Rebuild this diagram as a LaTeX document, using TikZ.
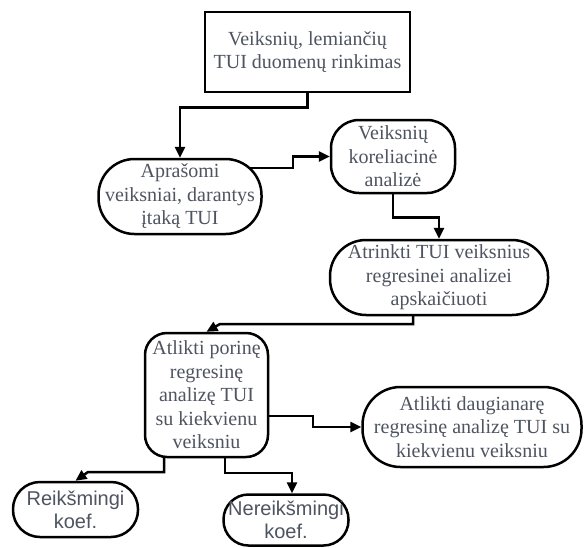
\documentclass[tikz,border=0pt]{standalone}
\usepackage{fontspec}
\setmainfont{Liberation Serif}
\newfontfamily\sansf{Liberation Sans}
\usetikzlibrary{arrows.meta,backgrounds,calc}
\definecolor{tc}{RGB}{78,84,96}
\begin{document}
\begin{tikzpicture}[x=1pt,y=-1pt,
  box/.style={draw=black,line width=2.5pt,fill=white,align=center,text=tc,
    font=\fontsize{20}{23.5}\selectfont,inner sep=0pt},
  sbox/.style={box,font=\sansf\fontsize{20}{23}\selectfont},
  arr/.style={line width=2.5pt,-{Triangle[length=11pt,width=10pt]}}]
\useasboundingbox (0,0) rectangle (584,547);
\node[box,minimum width=205pt,minimum height=80pt] (n1) at (307.5,52) {Veiksnių, lemiančių\\TUI duomenų rinkimas};
\node[box,minimum width=163pt,minimum height=75pt,rounded corners=36pt] (n2) at (180,196.5) {Aprašomi\\veiksniai, darantys\\įtaką TUI};
\node[box,minimum width=124pt,minimum height=73pt,rounded corners=28pt] (n3) at (393,156.5) {Veiksnių\\koreliacinė\\analizė};
\node[box,minimum width=218pt,minimum height=75pt,rounded corners=36pt] (n4) at (439,277.5) {Atrinkti TUI veiksnius\\regresinei analizei\\apskaičiuoti};
\node[box,minimum width=123pt,minimum height=124pt,rounded corners=22pt] (n5) at (206.5,395) {Atlikti porinę\\regresinę\\analizę TUI\\su kiekvienu\\veiksniu};
\node[box,minimum width=219pt,minimum height=80pt,rounded corners=38pt] (n6) at (472,427) {Atlikti daugianarę\\regresinę analizę TUI su\\kiekvienu veiksniu};
\node[sbox,minimum width=125pt,minimum height=55pt,rounded corners=27pt] (n7) at (75.5,509.5) {Reikšmingi\\koef.};
\node[sbox,minimum width=125pt,minimum height=51pt,rounded corners=25pt] (n8) at (286,520) {Nereikšmingi\\koef.};
\coordinate (k2) at (293,168);
\coordinate (k4) at (413,0);
\coordinate (k4b) at (220,324);
\coordinate (k5) at (313,416);
\coordinate (k6) at (164,0);
\coordinate (k6b) at (88,472);
\coordinate (k7) at (225,0);
\coordinate (k7b) at (292,473);
\begin{scope}[on background layer]
\draw[arr] (n1.south) -- ++(0,14) -| (n2.north);
\draw[arr] (n2.center |- k2) -- (k2) |- (n3.west);
\draw[arr] (n3.south) -- ++(0,23) -| (n4.north);
\draw[arr] (n4.center -| k4) |- (k4b) -- (n5.north);
\draw[arr] (n5.center |- k5) -- (k5) |- (n6.west);
\draw[arr] (n5.center -| k6) |- (k6b) -- (n7.north);
\draw[arr] (n5.center -| k7) |- (k7b) -- (n8.north -| k7b);
\end{scope}
\end{tikzpicture}
\end{document}
